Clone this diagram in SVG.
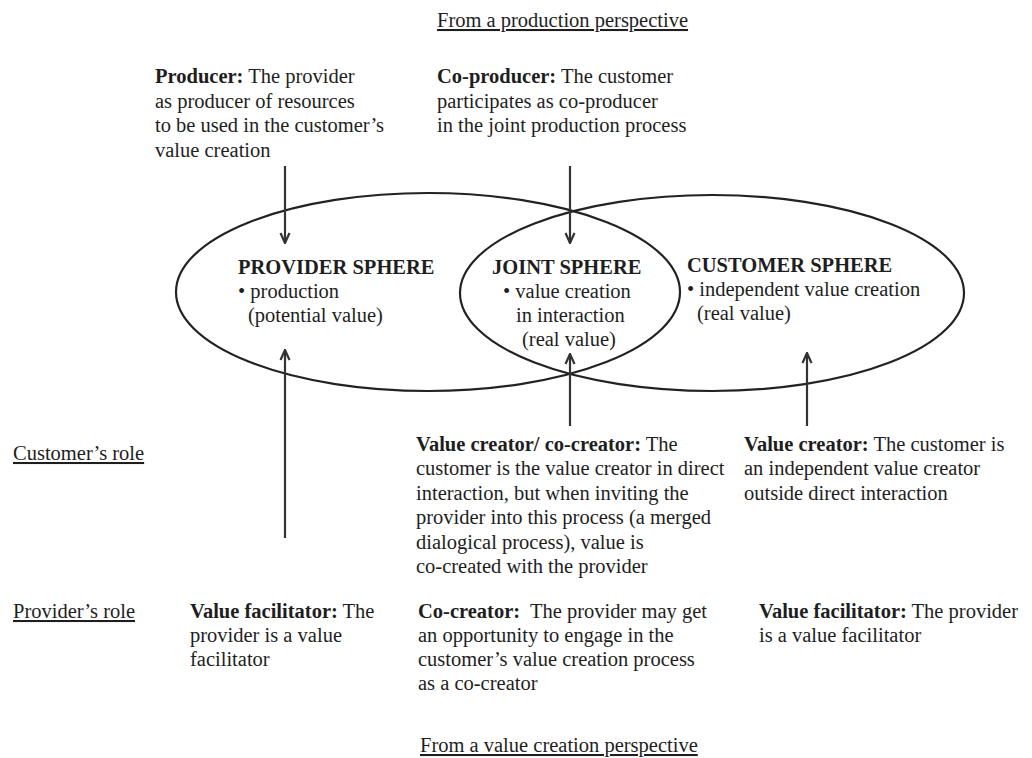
<svg xmlns="http://www.w3.org/2000/svg" width="1032" height="758" viewBox="0 0 1032 758">
  <style>
    text { font-family: "Liberation Serif", "Times New Roman", serif; font-size: 20.5px; fill: #1e1e1e; }
    .b { font-weight: bold; }
    .u { text-decoration: underline; }
    .sphere { fill: none; stroke: #222; stroke-width: 2.2; }
    .conn line { stroke: #333; stroke-width: 2.2; }
  </style>
  <defs>
    <marker id="arrow" viewBox="0 0 12 12" refX="11" refY="6" markerWidth="12" markerHeight="12" markerUnits="userSpaceOnUse" orient="auto">
      <path d="M1 1.5 L11 6 L1 10.5" fill="none" stroke="#333" stroke-width="2.2"/>
    </marker>
  </defs>
  <rect width="1032" height="758" fill="#fff"/>

  <!-- perspective and role labels -->
  <g id="top-label"><text x="437" y="27" class="u">From a production perspective</text></g>
  <g id="bottom-label"><text x="420" y="752" class="u">From a value creation perspective</text></g>
  <g id="customer-role-label"><text x="13" y="460" class="u">Customer’s role</text></g>
  <g id="provider-role-label"><text x="13" y="618" class="u">Provider’s role</text></g>

  <!-- spheres -->
  <g id="provider-sphere">
    <ellipse class="sphere" cx="428" cy="292" rx="252" ry="99"/>
    <text x="238" y="274" class="b">PROVIDER SPHERE</text>
    <text x="238" y="298">• production</text>
    <text x="248" y="322">(potential value)</text>
  </g>
  <g id="customer-sphere">
    <ellipse class="sphere" cx="712" cy="293" rx="252" ry="98"/>
    <text x="687" y="272" class="b">CUSTOMER SPHERE</text>
    <text x="687" y="296">• independent value creation</text>
    <text x="697" y="320">(real value)</text>
  </g>
  <g id="joint-sphere">
    <text x="492" y="274" class="b">JOINT SPHERE</text>
    <text x="503" y="298">• value creation</text>
    <text x="516" y="322">in interaction</text>
    <text x="522" y="346">(real value)</text>
  </g>

  <!-- production roles -->
  <g id="producer">
    <text x="155" y="83"><tspan class="b">Producer:</tspan> The provider</text>
    <text x="155" y="108">as producer of resources</text>
    <text x="155" y="132">to be used in the customer’s</text>
    <text x="155" y="157">value creation</text>
  </g>
  <g id="co-producer">
    <text x="437" y="83"><tspan class="b">Co-producer:</tspan> The customer</text>
    <text x="437" y="108">participates as co-producer</text>
    <text x="437" y="132">in the joint production process</text>
  </g>

  <!-- customer roles -->
  <g id="value-co-creator">
    <text x="416" y="451"><tspan class="b">Value creator/ co-creator:</tspan> The</text>
    <text x="416" y="475">customer is the value creator in direct</text>
    <text x="416" y="500">interaction, but when inviting the</text>
    <text x="416" y="524">provider into this process (a merged</text>
    <text x="416" y="549">dialogical process), value is</text>
    <text x="416" y="573">co-created with the provider</text>
  </g>
  <g id="value-creator">
    <text x="744" y="451"><tspan class="b">Value creator:</tspan> The customer is</text>
    <text x="744" y="475">an independent value creator</text>
    <text x="744" y="500">outside direct interaction</text>
  </g>

  <!-- provider roles -->
  <g id="facilitator-left">
    <text x="190" y="618"><tspan class="b">Value facilitator:</tspan> The</text>
    <text x="190" y="642">provider is a value</text>
    <text x="190" y="666">facilitator</text>
  </g>
  <g id="co-creator">
    <text x="418" y="618" xml:space="preserve"><tspan class="b">Co-creator:</tspan>  The provider may get</text>
    <text x="418" y="642">an opportunity to engage in the</text>
    <text x="418" y="666">customer’s value creation process</text>
    <text x="418" y="690">as a co-creator</text>
  </g>
  <g id="facilitator-right">
    <text x="759" y="618"><tspan class="b">Value facilitator:</tspan> The provider</text>
    <text x="759" y="642">is a value facilitator</text>
  </g>

  <!-- connectors -->
  <g id="connectors" class="conn">
    <line x1="285" y1="166" x2="285" y2="243" marker-end="url(#arrow)"/>
    <line x1="570" y1="166" x2="570" y2="243" marker-end="url(#arrow)"/>
    <line x1="285" y1="538" x2="285" y2="350" marker-end="url(#arrow)"/>
    <line x1="570" y1="426" x2="570" y2="354" marker-end="url(#arrow)"/>
    <line x1="807" y1="426" x2="807" y2="353" marker-end="url(#arrow)"/>
  </g>
</svg>
